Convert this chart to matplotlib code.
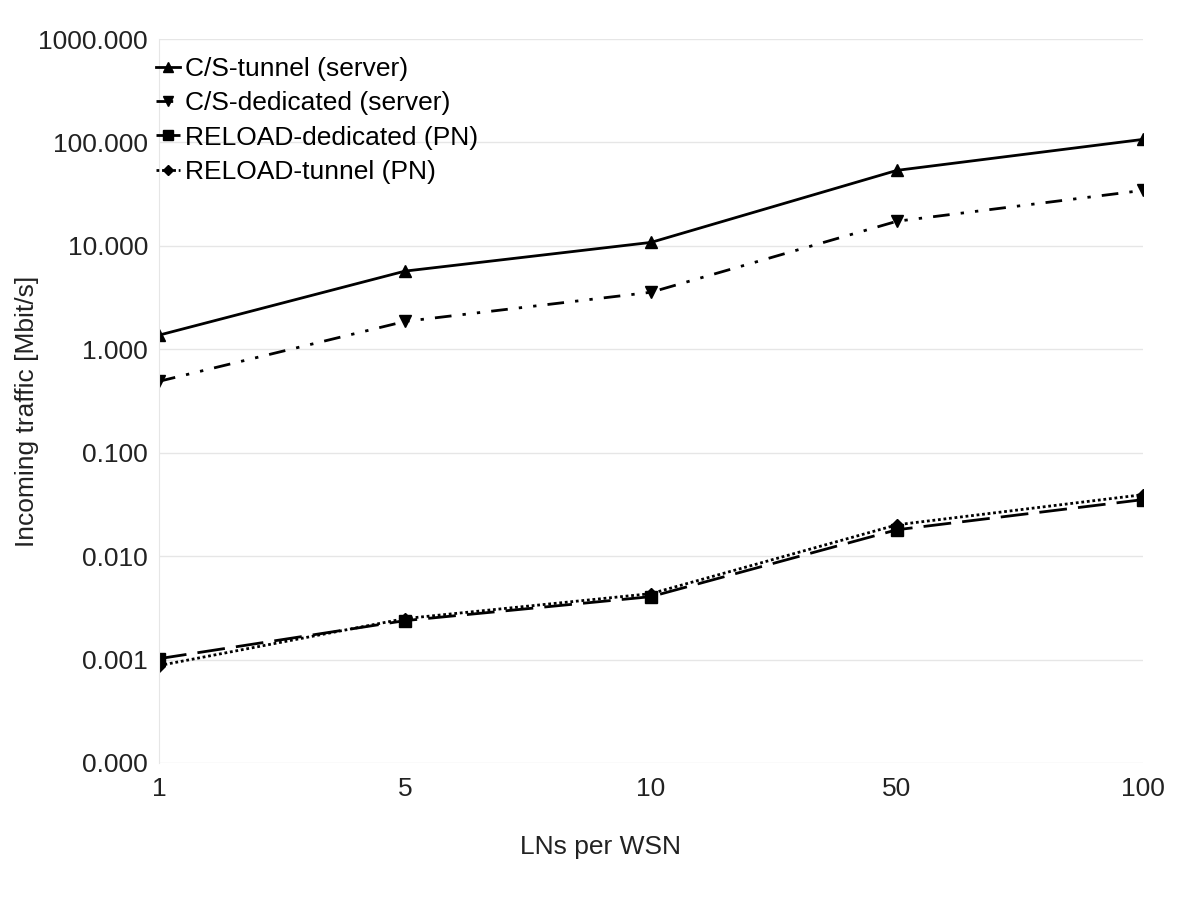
import matplotlib.pyplot as plt
from matplotlib.ticker import FixedLocator, FuncFormatter

plt.rcParams['font.family'] = ['Liberation Sans', 'DejaVu Sans']

x_labels = ["1", "5", "10", "50", "100"]
cs_tunnel = [1.37, 5.7, 10.8, 53.7, 107]
cs_dedicated = [0.49, 1.86, 3.56, 17.3, 34.4]
reload_dedicated = [0.00102, 0.00238, 0.00406, 0.018, 0.0352]
reload_tunnel = [0.000875, 0.00249, 0.00434, 0.0201, 0.0393]

pos = list(range(len(x_labels)))

fig = plt.figure(figsize=(12, 8.99), dpi=100)
ax = fig.add_axes([159 / 1200, 1 - 763 / 899, (1143 - 159) / 1200, (763 - 39) / 899])

ax.plot(pos, cs_tunnel, color="black", lw=2, marker="^", ms=9, label="C/S-tunnel (server)")
ax.plot(pos, cs_dedicated, color="black", lw=2, marker="v", ms=9,
        dashes=(6, 4, 1.2, 4, 1.2, 4), label="C/S-dedicated (server)")
ax.plot(pos, reload_dedicated, color="black", lw=2, marker="s", ms=8,
        dashes=(10, 4), label="RELOAD-dedicated (PN)")
ax.plot(pos, reload_tunnel, color="black", lw=2, marker="D", ms=6,
        dashes=(1, 1), label="RELOAD-tunnel (PN)")

ax.set_yscale("log")
ax.set_ylim(0.0001, 1000)
ax.set_xlim(0, len(x_labels) - 1)
ax.yaxis.set_major_locator(FixedLocator([1e-4, 1e-3, 1e-2, 1e-1, 1, 10, 100, 1000]))
ax.yaxis.set_minor_locator(FixedLocator([]))
ax.yaxis.set_major_formatter(FuncFormatter(lambda v, p: f"{v:.3f}"))
ax.set_xticks(pos)
ax.set_xticklabels(x_labels)
ax.tick_params(axis="y", length=0, labelsize=19, colors="#222222", pad=8)
ax.tick_params(axis="x", length=0, labelsize=19, colors="#222222", pad=10)
ax.grid(axis="y", color="#e6e6e6", lw=1)
for s in ["top", "right", "bottom"]:
    ax.spines[s].set_visible(False)
ax.spines["left"].set_color("#e6e6e6")

ax.set_xlabel("LNs per WSN", fontsize=19, color="#222222")
ax.xaxis.set_label_coords(0.449, -0.099)
ax.set_ylabel("Incoming traffic [Mbit/s]", fontsize=19, color="#222222")
ax.yaxis.set_label_coords(-0.122, 0.485)

ax.legend(loc="upper left", frameon=False, fontsize=19, handlelength=0.9,
          handletextpad=0.2, borderpad=0, borderaxespad=0, labelspacing=0.39,
          markerscale=0.85, bbox_to_anchor=(-0.003, 0.975))

fig.savefig("out.png")
